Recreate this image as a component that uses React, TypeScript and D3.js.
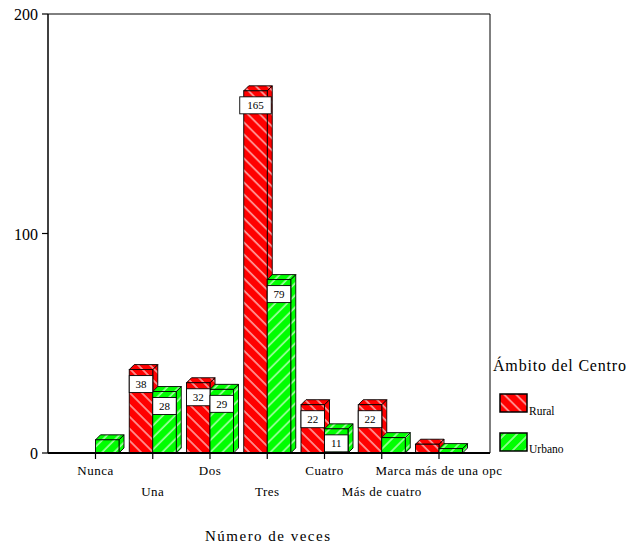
import React from 'react';
import * as d3 from 'd3';

const categories = ['Nunca', 'Una', 'Dos', 'Tres', 'Cuatro', 'Más de cuatro', 'Marca más de una opc'];
const rural = [0, 38, 32, 165, 22, 22, 4];
const urbano = [6, 28, 29, 79, 11, 7, 2];
const yTicks = [0, 100, 200];
const seriesNames = ['Rural', 'Urbano'];
const seriesColors = ['#ff0000', '#00ff00'];
const seriesPatterns = ['hatchRural', 'hatchUrbano'];
const axisTitle = 'Número de veces';
const legendTitle = 'Ámbito del Centro';

const W = 628;
const H = 547;
const plot = { left: 48, top: 14, right: 490, bottom: 453 };
const font = '"Liberation Serif", "Times New Roman", serif';

export default function App() {
  const x = d3.scalePoint<string>().domain(categories).range([95.5, 439]);
  const y = d3.scaleLinear().domain([0, 200]).range([plot.bottom, plot.top]);
  const barW = 23.5;
  const depth = 5;
  const series = [rural, urbano];

  const bars: React.ReactNode[] = [];
  const labels: React.ReactNode[] = [];
  categories.forEach((c, i) => {
    series.forEach((vals, s) => {
      const v = vals[i];
      if (v <= 0) return;
      const x0 = (x(c) as number) + (s === 0 ? -barW : 0);
      const yTop = y(v);
      const yBot = y(0);
      const fill = `url(#${seriesPatterns[s]})`;
      const top = `${x0},${yTop} ${x0 + depth},${yTop - depth} ${x0 + barW + depth},${yTop - depth} ${x0 + barW},${yTop}`;
      const side = `${x0 + barW},${yTop} ${x0 + barW + depth},${yTop - depth} ${x0 + barW + depth},${yBot - depth} ${x0 + barW},${yBot}`;
      bars.push(
        <g key={`b${i}-${s}`} stroke="#000" strokeWidth={0.9}>
          <polygon points={side} fill={fill} />
          <polygon points={top} fill={fill} />
          <rect x={x0} y={yTop} width={barW} height={yBot - yTop} fill={fill} />
        </g>
      );
      if (v >= 10) {
        const txt = String(v);
        const bw = Math.max(barW, txt.length * 9.5 + 3);
        const bh = 17;
        let by = yTop + 6;
        if (by + bh > yBot - 1) by = yBot - 1 - bh;
        const cx = x0 + barW / 2;
        labels.push(
          <g key={`l${i}-${s}`}>
            <rect x={cx - bw / 2} y={by} width={bw} height={bh} fill="#fff" stroke="#000" strokeWidth={0.9} />
            <text x={cx} y={by + bh / 2 + 4} textAnchor="middle" fontSize={11} fontFamily={font} fill="#000">{txt}</text>
          </g>
        );
      }
    });
  });

  return (
    <svg width={W} height={H} style={{ position: 'absolute', left: 0, top: 0, background: '#fff' }}>
      <defs>
        {seriesPatterns.map((id, s) => (
          <pattern key={id} id={id} patternUnits="userSpaceOnUse" width={8.5} height={8.5}
            patternTransform={`rotate(${s === 0 ? -45 : 45})`}>
            <rect x={0} y={0} width={8.5} height={8.5} fill={seriesColors[s]} />
            <line x1={1} y1={0} x2={1} y2={8.5} stroke="#fff" strokeWidth={1.2} opacity={0.85} />
          </pattern>
        ))}
      </defs>
      <rect x={0} y={0} width={W} height={H} fill="#fff" />
      <line x1={plot.left} y1={plot.top} x2={plot.right} y2={plot.top} stroke="#000" strokeWidth={1} />
      <line x1={plot.right} y1={plot.top} x2={plot.right} y2={plot.bottom} stroke="#000" strokeWidth={1} />
      <line x1={plot.left} y1={plot.top} x2={plot.left} y2={plot.bottom} stroke="#000" strokeWidth={1.5} />
      {bars}
      {labels}
      <line x1={plot.left} y1={plot.bottom} x2={plot.right} y2={plot.bottom} stroke="#000" strokeWidth={2} />
      {yTicks.map((t) => (
        <g key={`yt${t}`}>
          <line x1={plot.left - 6} y1={y(t)} x2={plot.left} y2={y(t)} stroke="#000" strokeWidth={1.2} />
          <text x={plot.left - 10} y={y(t) + 6} textAnchor="end" fontSize={16} fontFamily={font} fill="#000">{t}</text>
        </g>
      ))}
      {categories.map((c, i) => (
        <g key={`xt${i}`}>
          <line x1={x(c) as number} y1={plot.bottom} x2={x(c) as number} y2={plot.bottom + 6} stroke="#000" strokeWidth={1.2} />
          <text x={x(c) as number} y={i % 2 === 0 ? 475 : 496} textAnchor="middle" fontSize={13} letterSpacing={0.5} fontFamily={font} fill="#000">{c}</text>
        </g>
      ))}
      <text x={205} y={541} fontSize={15} fontFamily={font} fill="#000" textLength={125} lengthAdjust="spacing">{axisTitle}</text>
      <text x={493} y={371} fontSize={16} fontFamily={font} fill="#000" textLength={133} lengthAdjust="spacing">{legendTitle}</text>
      {seriesNames.map((n, s) => (
        <g key={`lg${s}`}>
          <rect x={500} y={394 + s * 39} width={27} height={18} fill={`url(#${seriesPatterns[s]})`} stroke="#000" strokeWidth={1.5} />
          <text x={529} y={415 + s * 38} fontSize={11.5} fontFamily={font} fill="#000">{n}</text>
        </g>
      ))}
    </svg>
  );
}
